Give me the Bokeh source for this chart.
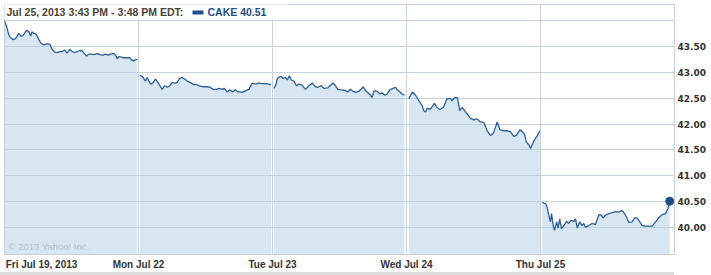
from bokeh.plotting import figure
from bokeh.models import Range1d, FixedTicker, Label, BoxAnnotation, Div, NumeralTickFormatter
from bokeh.layouts import column
from bokeh.embed import file_html
from bokeh.resources import INLINE

# ---------------- data ----------------
day_labels = ["Fri Jul 19, 2013", "Mon Jul 22", "Tue Jul 23", "Wed Jul 24", "Thu Jul 25"]
SESSION = 390  # minutes per trading day (9:30 - 16:00)

fri_t = [0, 6, 12, 17, 25, 32, 42, 48, 54, 64, 71, 76, 80, 85, 93, 100, 107, 116, 124, 132,
         139, 146, 153, 161, 168, 175, 182, 190, 197, 204, 212, 219, 226, 231, 239, 245, 252, 260, 270, 277,
         287, 294, 301, 309, 318, 323, 328, 333, 340, 347, 357, 365, 369, 375, 381, 386]
fri_p = [43.99, 43.89, 43.73, 43.67, 43.63, 43.65, 43.75, 43.69, 43.71, 43.81, 43.78, 43.70, 43.78, 43.75, 43.73, 43.63, 43.55, 43.53, 43.55, 43.54,
         43.44, 43.39, 43.38, 43.40, 43.40, 43.43, 43.37, 43.44, 43.40, 43.38, 43.40, 43.42, 43.41, 43.37, 43.31, 43.35, 43.35, 43.34, 43.36, 43.34,
         43.33, 43.35, 43.33, 43.35, 43.36, 43.33, 43.26, 43.30, 43.29, 43.28, 43.28, 43.28, 43.24, 43.22, 43.24, 43.25]

mon_t = [4, 11, 15, 20, 25, 30, 35, 43, 49, 56, 62, 69, 76, 84, 91, 98, 108, 113, 120, 127,
         134, 142, 151, 161, 171, 178, 190, 200, 208, 217, 227, 234, 244, 250, 258, 266, 273, 282, 289, 297,
         302, 311, 321, 331, 341, 350, 360, 370, 379, 386]
mon_p = [42.94, 42.92, 42.88, 42.83, 42.90, 42.83, 42.77, 42.80, 42.87, 42.81, 42.74, 42.67, 42.74, 42.71, 42.74, 42.80, 42.79, 42.81, 42.88, 42.90,
         42.87, 42.83, 42.80, 42.76, 42.76, 42.73, 42.72, 42.72, 42.71, 42.67, 42.67, 42.69, 42.67, 42.69, 42.62, 42.66, 42.62, 42.66, 42.62, 42.62,
         42.61, 42.64, 42.67, 42.79, 42.77, 42.79, 42.78, 42.78, 42.77, 42.76]

tue_t = [4, 9, 14, 18, 25, 31, 38, 43, 49, 55, 62, 70, 77, 86, 96, 106, 116, 125, 132, 142,
         149, 161, 169, 177, 183, 190, 200, 210, 219, 227, 235, 242, 251, 258, 264, 271, 277, 285, 290, 295,
         305, 312, 319, 326, 334, 341, 351, 358, 363, 371, 377, 384]
tue_p = [42.69, 42.74, 42.87, 42.90, 42.92, 42.88, 42.90, 42.85, 42.93, 42.85, 42.83, 42.74, 42.77, 42.75, 42.67, 42.74, 42.79, 42.72, 42.71, 42.74,
         42.69, 42.70, 42.75, 42.79, 42.74, 42.67, 42.66, 42.65, 42.62, 42.67, 42.63, 42.61, 42.63, 42.67, 42.72, 42.64, 42.61, 42.56, 42.51, 42.64,
         42.63, 42.58, 42.60, 42.56, 42.58, 42.66, 42.69, 42.71, 42.66, 42.62, 42.58, 42.56]

wed_t = [7, 17, 26, 36, 46, 50, 55, 60, 70, 81, 89, 97, 107, 118, 128, 133, 140, 148, 155, 162,
         172, 181, 186, 196, 206, 215, 225, 235, 244, 252, 259, 264, 272, 283, 295, 303, 312, 320, 330, 337,
         343, 349, 356, 361, 369, 375, 382, 388]
wed_p = [42.49, 42.62, 42.56, 42.45, 42.35, 42.26, 42.23, 42.30, 42.29, 42.40, 42.32, 42.28, 42.32, 42.49, 42.49, 42.45, 42.51, 42.51, 42.26, 42.32,
         42.23, 42.16, 42.11, 42.08, 42.10, 42.04, 42.03, 41.87, 41.78, 41.81, 41.94, 42.04, 41.89, 41.87, 41.87, 41.85, 41.76, 41.78, 41.89, 41.85,
         41.81, 41.65, 41.60, 41.53, 41.65, 41.72, 41.79, 41.87]

thu_t = [5, 15, 19, 24, 29, 32, 37, 41, 47, 51, 56, 61, 68, 76, 82, 89, 97, 102, 107, 114,
         121, 126, 131, 141, 150, 160, 170, 177, 182, 189, 199, 209, 218, 228, 235, 242, 250, 257, 267, 274,
         281, 289, 296, 306, 315, 325, 335, 344, 354, 364, 371, 376]
thu_p = [40.49, 40.46, 40.40, 40.24, 40.11, 40.27, 40.04, 39.95, 40.11, 39.99, 40.17, 39.98, 40.04, 40.12, 40.08, 40.14, 40.12, 40.17, 39.99, 40.11,
         40.04, 40.08, 40.01, 40.04, 40.08, 40.06, 40.25, 40.24, 40.19, 40.24, 40.27, 40.29, 40.31, 40.30, 40.33, 40.30, 40.21, 40.10, 40.11, 40.19,
         40.19, 40.11, 40.04, 40.03, 40.03, 40.03, 40.11, 40.19, 40.25, 40.27, 40.37, 40.51]

y_ticks = [40.0, 40.5, 41.0, 41.5, 42.0, 42.5, 43.0, 43.5]
y_grid = [40.0, 40.5, 41.0, 41.5, 42.0, 42.5, 43.0, 43.5, 44.0]
symbol = "CAKE"
last_price = "40.51"
header = "Jul 25, 2013 3:43 PM - 3:48 PM EDT:"
copyright_text = "\u00a9 2013 Yahoo! Inc."

# ---------------- styling ----------------
Y_MIN, Y_MAX = 39.481, 44.308
LINE_C = "#2d5f96"
FILL_C = "#afcde3"
GRID_C = "#c9d2db"
TXT_C = "#333333"
FRAME_W, FRAME_H = 670, 251

p = figure(width=711, height=272,
           x_range=Range1d(0, 5 * SESSION), y_range=Range1d(Y_MIN, Y_MAX),
           y_axis_location="right", output_backend="svg", toolbar_location=None,
           min_border_left=4, min_border_right=37, min_border_top=4, min_border_bottom=17)
p.background_fill_color = "white"
p.border_fill_color = "white"
p.outline_line_color = "#c5ced8"
p.outline_line_width = 1

boundaries = [SESSION * i for i in range(1, 5)]
p.xgrid.ticker = FixedTicker(ticks=boundaries)
p.ygrid.ticker = FixedTicker(ticks=y_grid)
p.grid.grid_line_color = GRID_C
p.grid.grid_line_width = 1

# x axis: day labels centred on day boundaries; the first day's label is left-aligned
# at the frame's left edge, so its tick sits half a label-width in from the edge.
first_label_px = 37
first_pos = first_label_px * 5 * SESSION / FRAME_W
x_ticks = [first_pos] + boundaries
p.xaxis.ticker = FixedTicker(ticks=x_ticks)
p.xaxis.major_label_overrides = {t: lab for t, lab in zip(x_ticks, day_labels)}
p.xaxis.axis_line_color = None
p.xaxis.major_tick_line_color = None
p.xaxis.minor_tick_line_color = None
p.xaxis.major_tick_out = 0
p.xaxis.major_tick_in = 0
p.xaxis.minor_tick_out = 0
p.xaxis.major_label_standoff = 4
p.xaxis.major_label_text_font = "Liberation Sans"
p.xaxis.major_label_text_font_style = "bold"
p.xaxis.major_label_text_font_size = "10px"
p.xaxis.major_label_text_color = TXT_C

# y axis on the right
p.yaxis.ticker = FixedTicker(ticks=y_ticks)
p.yaxis.formatter = NumeralTickFormatter(format="0.00")
p.yaxis.axis_line_color = None
p.yaxis.major_tick_line_color = None
p.yaxis.minor_tick_line_color = None
p.yaxis.major_tick_out = 0
p.yaxis.major_tick_in = 0
p.yaxis.minor_tick_out = 0
p.yaxis.major_label_standoff = 3
p.yaxis.major_label_text_font = "DejaVu Sans"
p.yaxis.major_label_text_font_style = "bold"
p.yaxis.major_label_text_font_size = "9px"
p.yaxis.major_label_text_color = TXT_C

days_t = [fri_t, mon_t, tue_t, wed_t, thu_t]
days_p = [fri_p, mon_p, tue_p, wed_p, thu_p]
for d, (ts, ps) in enumerate(zip(days_t, days_p)):
    xs = [d * SESSION + t for t in ts]
    p.varea(x=xs, y1=Y_MIN, y2=ps, fill_color=FILL_C, fill_alpha=0.5)
    p.line(xs, ps, line_color=LINE_C, line_width=1.3)

p.scatter([4 * SESSION + thu_t[-1]], [thu_p[-1]], size=8, fill_color="#1d4f85", line_color="#1d4f85")

# copyright
p.add_layout(Label(x=4, y=8, x_units="screen", y_units="screen", text=copyright_text,
                   text_font="Liberation Sans", text_font_size="9.5px",
                   text_color="#b3c1ce", text_baseline="middle", text_align="left"))

# header box (covers the top-left of the frame)
p.add_layout(BoxAnnotation(left=-4, right=283, top=FRAME_H + 5, bottom=FRAME_H - 16,
                           left_units="screen", right_units="screen",
                           top_units="screen", bottom_units="screen",
                           fill_color="white", fill_alpha=1.0, line_alpha=0))
p.add_layout(Label(x=2, y=FRAME_H - 8.5, x_units="screen", y_units="screen", text=header,
                   text_font="Liberation Sans", text_font_style="bold", text_font_size="10.5px",
                   text_color="#4a3f35", text_baseline="middle", text_align="left"))
p.add_layout(BoxAnnotation(left=188, right=199, top=FRAME_H - 7, bottom=FRAME_H - 11,
                           left_units="screen", right_units="screen",
                           top_units="screen", bottom_units="screen",
                           fill_color="#1f4e88", fill_alpha=1.0, line_alpha=0))
p.add_layout(Label(x=203, y=FRAME_H - 8.5, x_units="screen", y_units="screen",
                   text=f"{symbol} {last_price}",
                   text_font="Liberation Sans", text_font_style="bold", text_font_size="10.5px",
                   text_color="#1f4e88", text_baseline="middle", text_align="left"))

bar = Div(text="", width=674, height=3, margin=0,
          styles={"background-color": "#dcdcdc"})

layout = column(p, bar, spacing=0)
open("out.html", "w").write(file_html(layout, INLINE))
